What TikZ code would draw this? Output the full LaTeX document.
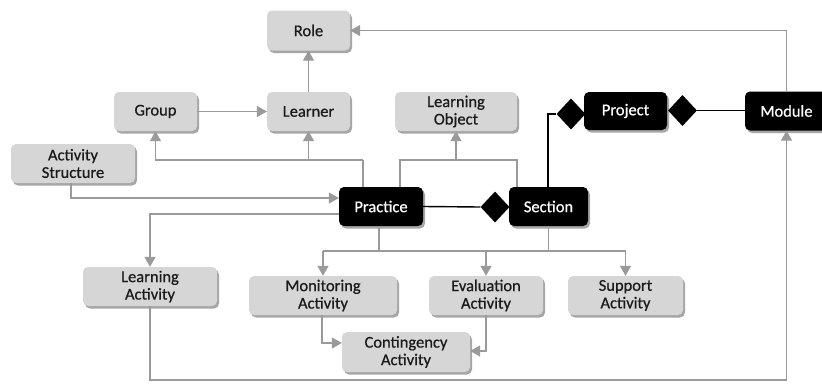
\documentclass[tikz,border=0pt]{standalone}
\usepackage{fontspec}
\setmainfont{Carlito}
\newfontfamily\labfont{Carlito}[FakeBold=0.6]
\usetikzlibrary{shapes.geometric,shadows,arrows.meta}
\definecolor{boxgray}{HTML}{D6D6D6}
\definecolor{linegray}{HTML}{9A9A9A}
\definecolor{textgray}{HTML}{1A1A1A}
\tikzset{
  base/.style={rounded corners=5pt, inner sep=0pt, align=center,
    font=\labfont\fontsize{16.5}{17.5}\selectfont,
    drop shadow={shadow xshift=2pt, shadow yshift=-2.5pt, fill=black, opacity=0.35}},
  graybox/.style={base, fill=boxgray, text=textgray},
  blackbox/.style={base, fill=black, text=white},
  diam/.style={diamond, fill=black, inner sep=0pt, minimum width=29pt, minimum height=31pt},
  conn/.style={draw=linegray, line width=1.4pt},
  arr/.style={conn, -{Triangle[length=10pt,width=11pt]}},
  comp/.style={draw=black, line width=1.4pt}
}
\begin{document}
\begin{tikzpicture}[x=1pt,y=-1pt]
\useasboundingbox (0,0) rectangle (822,383);
\fill[white] (0,0) rectangle (822,383);
% nodes
\node[graybox, minimum width=83pt, minimum height=40pt] (role) at (308.5,30.5) {Role};
\node[graybox, minimum width=83pt, minimum height=39pt] (group) at (155.5,111.5) {Group};
\node[graybox, minimum width=83pt, minimum height=39pt] (learner) at (308.5,111.5) {Learner};
\node[graybox, minimum width=124pt, minimum height=39pt] (actstruct) at (73,163.5) {Activity\\Structure};
\node[graybox, minimum width=122pt, minimum height=39pt] (lobj) at (456,111.5) {Learning\\Object};
\node[blackbox, minimum width=83pt, minimum height=38pt] (project) at (625.5,111) {Project};
\node[blackbox, minimum width=83pt, minimum height=39pt] (module) at (786.5,111) {Module};
\node[diam] (dproj) at (571,114) {};
\node[diam] (dmod) at (682.5,110.5) {};
\node[blackbox, minimum width=84pt, minimum height=39pt] (practice) at (381,206.5) {Practice};
\node[blackbox, minimum width=79pt, minimum height=39pt] (section) at (548.5,206.5) {Section};
\node[diam] (dsec) at (495,207) {};
\node[graybox, minimum width=134pt, minimum height=39pt] (lact) at (150,286.5) {Learning\\Activity};
\node[graybox, minimum width=148pt, minimum height=39pt] (mon) at (323,295.5) {Monitoring\\Activity};
\node[graybox, minimum width=114pt, minimum height=39pt] (eval) at (486,295.5) {Evaluation\\Activity};
\node[graybox, minimum width=115pt, minimum height=39pt] (supp) at (625.5,295.5) {Support\\Activity};
\node[graybox, minimum width=128pt, minimum height=40pt] (cont) at (406,352) {Contingency\\Activity};
% connectors
\draw[arr] (module.north) |- (role.east);
\draw[arr] (learner.north) -- (role.south);
\draw[arr] (group.east) -- (learner.west);
\coordinate (pj) at (363,160);
\draw[conn] (practice.north -| pj) -- (pj);
\draw[arr] (pj) -| (group.south);
\draw[arr] (learner.south |- pj) -- (learner.south);
\coordinate (lo) at (400,160);
\coordinate (ro) at (517,160);
\draw[conn] (practice.north -| lo) -- (lo) -- (ro) -- (section.north -| ro);
\draw[arr] (lobj.south |- lo) -- (lobj.south);
\coordinate (as) at (71,198);
\draw[arr] (actstruct.south -| as) -- (as) -- (practice.west |- as);
\coordinate (la) at (150,214);
\draw[arr] (practice.west |- la) -- (la) -- (lact.north);
\coordinate (pb) at (379,251);
\draw[conn] (practice.south -| pb) -- (pb);
\draw[conn] (section.south) -- (section.south |- pb);
\draw[arr] (mon.north |- pb) -- (supp.north |- pb) -- (supp.north);
\draw[arr] (mon.north |- pb) -- (mon.north);
\draw[arr] (eval.north |- pb) -- (eval.north);
\coordinate (mc) at (322,343);
\draw[arr] (mon.south -| mc) -- (mc) -- (cont.west |- mc);
\coordinate (ec) at (486,351);
\draw[arr] (eval.south) -- (ec) -- (cont.east |- ec);
\coordinate (bl) at (150,380);
\draw[arr] (lact.south) -- (bl) -| (module.south);
% composition links
\draw[comp] (practice.east) -- (dsec.west);
\coordinate (sp) at (548,114);
\draw[comp] (section.north -| sp) -- (sp) -- (dproj.west);
\draw[comp] (dmod.east) -- (module.west |- dmod.east);
\end{tikzpicture}
\end{document}
